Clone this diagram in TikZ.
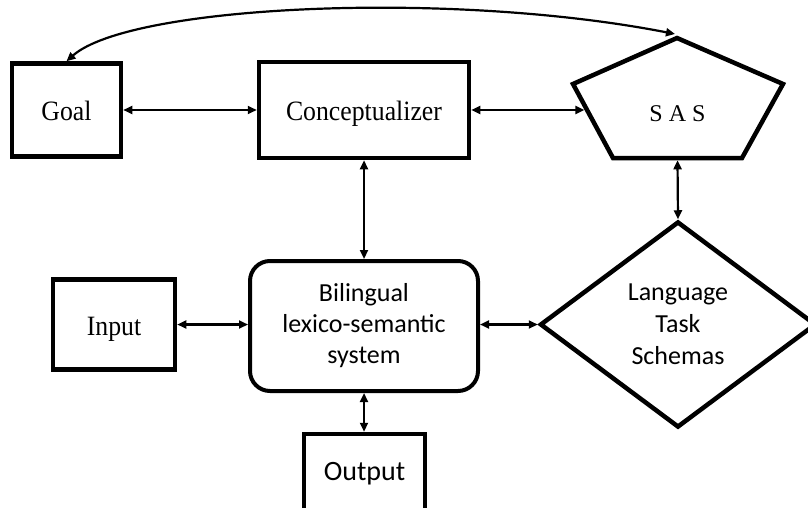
\documentclass[tikz,border=0pt]{standalone}
\usepackage{fontspec}
\setmainfont{Liberation Serif}
\newfontfamily\tnrnarrow{Liberation Serif}[FakeStretch=0.92]
\newfontfamily\calib{Carlito}
\usetikzlibrary{arrows.meta,shapes.geometric,calc}
\begin{document}
\begin{tikzpicture}[x=1pt,y=-1pt,
  box/.style={draw,line width=4.5pt,inner sep=0pt},
  serif/.style={font=\tnrnarrow\fontsize{28}{32}\selectfont, text height=22pt, text depth=0pt},
  sans/.style={font=\calib\fontsize{26}{31}\selectfont, align=center},
  conn/.style={line width=2.2pt,{Triangle[length=9pt,width=8pt]}-{Triangle[length=9pt,width=8pt]}},
]
\useasboundingbox[fill=white] (0,0) rectangle (808,508);

\node[box, serif, minimum width=109pt, minimum height=93pt] (goal) at (66.5,110) {Goal};
\node[box, serif, minimum width=210pt, minimum height=96pt] (concept) at (364,110) {Conceptualizer};
\node[box, serif, minimum width=122pt, minimum height=90pt] (input) at (114,324.5) {Input};
\node[box, line width=4pt, rounded corners=20pt, sans, minimum width=228pt, minimum height=130pt] (bil) at (364,326) {Bilingual\\lexico-semantic\\system};
\node[box, diamond, sans, font=\calib\fontsize{26}{32}\selectfont, minimum width=276pt, minimum height=206pt] (lts) at (678,324.5) {Language\\Task\\Schemas};
\node[box, font=\calib\fontsize{28}{32}\selectfont, text height=14pt, text depth=0pt, minimum width=121pt, minimum height=78pt] (output) at (364.5,473) {Output};

% SAS pentagon
\coordinate (pA) at (677,38);
\coordinate (pUL) at (573,84);
\coordinate (pUR) at (783,84);
\coordinate (pBR) at (742,158);
\coordinate (pBL) at (613,158);
\draw[line width=4.5pt] (pA) -- (pUR) -- (pBR) -- (pBL) -- (pUL) -- cycle;
\node[font=\fontsize{24}{28}\selectfont, anchor=base] (sas) at (677.5,122) {S A S};
\coordinate (sasW) at (584.4,110);
\coordinate (sasS) at (677.5,160.3);
\coordinate (sasN) at (675,34);

% connectors
\draw[conn] (goal.east) -- (goal.east -| concept.west);
\draw[conn] (concept.east) -- (sasW);
\draw[conn] (concept.south) -- (bil.north);
\draw[conn] (sasS) -- (lts.north);
\draw[conn] (input.east) -- (input.east -| bil.west);
\draw[conn] (bil.east |- lts.west) -- (lts.west);
\draw[conn] (bil.south) -- (bil.south |- output.north);
\draw[conn] (goal.north) .. controls (130,5) and (450,-10) .. (sasN);
\end{tikzpicture}
\end{document}
